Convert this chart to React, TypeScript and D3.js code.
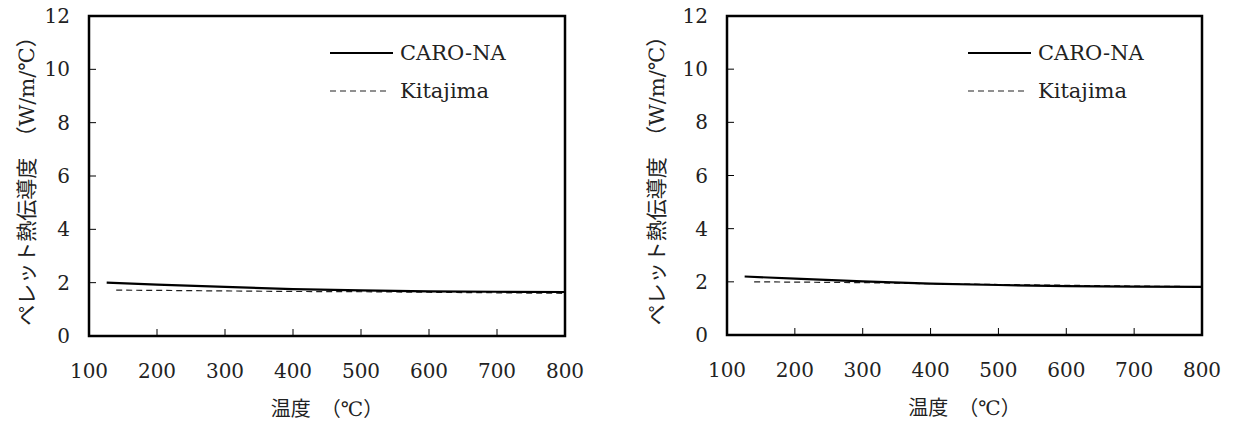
import React from "react";
import * as d3 from "d3";

// temperature (℃) / pellet thermal conductivity (W/m/℃)
const caroTemps = [126, 200, 300, 400, 500, 600, 700, 800];
const kitaTemps = [140, 200, 300, 400, 500, 600, 700, 800];

const leftCaro = [2.0, 1.93, 1.84, 1.76, 1.71, 1.67, 1.66, 1.65];
const leftKita = [1.72, 1.71, 1.69, 1.67, 1.66, 1.64, 1.62, 1.6];

const rightCaro = [2.2, 2.12, 2.02, 1.93, 1.88, 1.84, 1.82, 1.81];
const rightKita = [2.0, 1.99, 1.97, 1.93, 1.9, 1.87, 1.84, 1.82];

const xTicks = [100, 200, 300, 400, 500, 600, 700, 800];
const yTicks = [0, 2, 4, 6, 8, 10, 12];
const seriesNames = ["CARO-NA", "Kitajima"];

const yLabel = "ペレット熱伝導度　（W/m/℃）";
const xLabel = "温度　（℃）";

const font = "'DejaVu Serif', 'Noto Sans CJK JP', serif";

type PanelProps = {
  left: number;
  right: number;
  top: number;
  bottom: number;
  caro: number[];
  kita: number[];
  yLabelX: number;
  legendX: number;
};

const Panel = ({ left, right, top, bottom, caro, kita, yLabelX, legendX }: PanelProps) => {
  const x = d3.scaleLinear([100, 800], [left, right]);
  const y = d3.scaleLinear([0, 12], [bottom, top]);
  const line = d3
    .line<[number, number]>()
    .x((d) => x(d[0]))
    .y((d) => y(d[1]));
  const caroPts = caroTemps.map((t, i) => [t, caro[i]] as [number, number]);
  const kitaPts = kitaTemps.map((t, i) => [t, kita[i]] as [number, number]);
  const midY = (top + bottom) / 2;

  return (
    <g fill="#222">
      {/* ticks, pointing inward */}
      {xTicks.slice(1, -1).map((t) => (
        <line key={"xt" + t} x1={x(t)} x2={x(t)} y1={bottom} y2={bottom - 7} stroke="#000" strokeWidth={1} />
      ))}
      {yTicks.slice(1, -1).map((t) => (
        <line key={"yt" + t} x1={left} x2={left + 7} y1={y(t)} y2={y(t)} stroke="#000" strokeWidth={1} />
      ))}

      <path d={line(kitaPts) || ""} fill="none" stroke="#222" strokeWidth={1.2} strokeDasharray="6,4" />
      <path d={line(caroPts) || ""} fill="none" stroke="#000" strokeWidth={2.2} />

      <rect x={left} y={top} width={right - left} height={bottom - top} fill="none" stroke="#000" strokeWidth={2.5} />

      {xTicks.map((t) => (
        <text key={"xl" + t} x={x(t)} y={bottom + 42} textAnchor="middle" fontSize={20} fontFamily={font}>
          {t}
        </text>
      ))}
      {yTicks.map((t) => (
        <text key={"yl" + t} x={left - 19} y={y(t) + 7} textAnchor="end" fontSize={20} fontFamily={font}>
          {t}
        </text>
      ))}

      <text x={(left + right) / 2} y={bottom + 80} textAnchor="middle" fontSize={20} fontFamily={font}>
        {xLabel}
      </text>
      <text
        transform={`translate(${yLabelX},${midY}) rotate(-90)`}
        textAnchor="middle"
        dominantBaseline="central"
        fontSize={21}
        fontFamily={font}
      >
        {yLabel}
      </text>

      {/* legend */}
      <line x1={legendX} x2={legendX + 63} y1={53} y2={53} stroke="#000" strokeWidth={2} />
      <text x={legendX + 70} y={60} fontSize={21} fontFamily={font}>
        {seriesNames[0]}
      </text>
      <line x1={legendX} x2={legendX + 60} y1={91} y2={91} stroke="#222" strokeWidth={1.2} strokeDasharray="6,4" />
      <text x={legendX + 70} y={98} fontSize={21} fontFamily={font}>
        {seriesNames[1]}
      </text>
    </g>
  );
};

export default function App() {
  return (
    <svg
      width={1235}
      height={421}
      style={{ position: "absolute", left: 0, top: 0, background: "#fff" }}
    >
      <Panel left={89} right={565} top={16} bottom={336} caro={leftCaro} kita={leftKita} yLabelX={27} legendX={330} />
      <Panel left={727} right={1202} top={16} bottom={335} caro={rightCaro} kita={rightKita} yLabelX={657} legendX={968} />
    </svg>
  );
}
